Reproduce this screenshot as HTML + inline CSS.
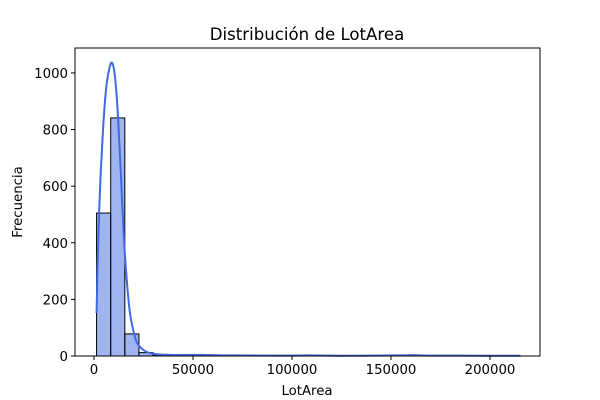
<!DOCTYPE html>
<html><head><meta charset="utf-8"><style>
body{margin:0;background:#fff}
svg{display:block;font-family:"DejaVu Sans","Liberation Sans",sans-serif}
</style></head><body>
<svg id="chart" width="600" height="400"></svg>
<script>
const binCounts=[505,841,78,12,4,2,2,2,1,1,0,0,0,0,0,1,0,0,0,0,0,1,1,0,0,0,0,0,0,1];
const binMin=1300, binMax=215245;
const kdeX=[1300,2020,3030,4545,6060,7576,9090,10606,12121,13636,15152,16667,18182,20707,23232,28283,38384,53535,68687,93939,109090,124242,154545,159596,169697,200000,215245];
const kdeY=[152,375,587,798,940,1010,1036,986,845,632,410,258,152,67,32,10,4,4,2,1.5,2,1,2,3,1.5,1,1];
const xTicks=[0,50000,100000,150000,200000];
const yTicks=[0,200,400,600,800,1000];
const L=75,R=540,T=48,B=356, xmin=-9596, xmax=225250, ymax=1088;
const sx=v=>L+(v-xmin)/(xmax-xmin)*(R-L);
const sy=v=>B-v/ymax*(B-T);
const svg=document.getElementById('chart');
const NS='http://www.w3.org/2000/svg';
function mk(tag,attrs,parent){const e=document.createElementNS(NS,tag);for(const k in attrs)e.setAttribute(k,attrs[k]);(parent||svg).appendChild(e);return e;}
const bw=(binMax-binMin)/binCounts.length;
binCounts.forEach((c,i)=>{
  const x0=sx(binMin+i*bw), x1=sx(binMin+(i+1)*bw);
  const r=mk('rect',{x:x0,y:sy(c),width:x1-x0,height:B-sy(c),fill:'rgba(65,105,225,0.5)',stroke:'#000','stroke-width':1});
  
  
});
const pts=kdeX.map((x,i)=>[sx(x),sy(kdeY[i])]);
let d='M'+pts[0][0].toFixed(2)+','+pts[0][1].toFixed(2);
for(let i=0;i<pts.length-1;i++){
  const p0=pts[Math.max(0,i-1)],p1=pts[i],p2=pts[i+1],p3=pts[Math.min(pts.length-1,i+2)];
  const c1=[p1[0]+(p2[0]-p0[0])/6,p1[1]+(p2[1]-p0[1])/6];
  const c2=[p2[0]-(p3[0]-p1[0])/6,p2[1]-(p3[1]-p1[1])/6];
  d+='C'+c1.map(v=>v.toFixed(2)).join(',')+' '+c2.map(v=>v.toFixed(2)).join(',')+' '+p2.map(v=>v.toFixed(2)).join(',');
}
const p=mk('path',{d:d,fill:'none',stroke:'#4169e1','stroke-width':2,'stroke-linejoin':'round'});


const fr=mk('rect',{x:L,y:T,width:R-L,height:B-T,fill:'none',stroke:'#000','stroke-width':1});


xTicks.forEach(v=>{
  mk('line',{x1:sx(v),x2:sx(v),y1:B,y2:B+4,stroke:'#000'});
  const t=mk('text',{x:sx(v),y:B+18,'text-anchor':'middle','font-size':13.3});
  t.textContent=String(v);
  
  
});
yTicks.forEach(v=>{
  mk('line',{x1:L-4,x2:L,y1:sy(v),y2:sy(v),stroke:'#000'});
  const t=mk('text',{x:L-7,y:sy(v)+5,'text-anchor':'end','font-size':13.3});
  t.textContent=String(v);
  
  
});
</script>
<script>
(function(){
const svg=document.getElementById('chart');
const NS='http://www.w3.org/2000/svg';
function txt(s,attrs){const e=document.createElementNS(NS,'text');for(const k in attrs)e.setAttribute(k,attrs[k]);e.textContent=s;svg.appendChild(e);return e;}
const a=txt('Distribución de LotArea',{x:307,y:40,'text-anchor':'middle','font-size':16.6});


const b=txt('LotArea',{x:307,y:395,'text-anchor':'middle','font-size':13.3});


const c=txt('Frecuencia',{x:22,y:202,'text-anchor':'middle','font-size':13.3,transform:'rotate(-90 22 202)'});


})();
</script>
</body></html>
